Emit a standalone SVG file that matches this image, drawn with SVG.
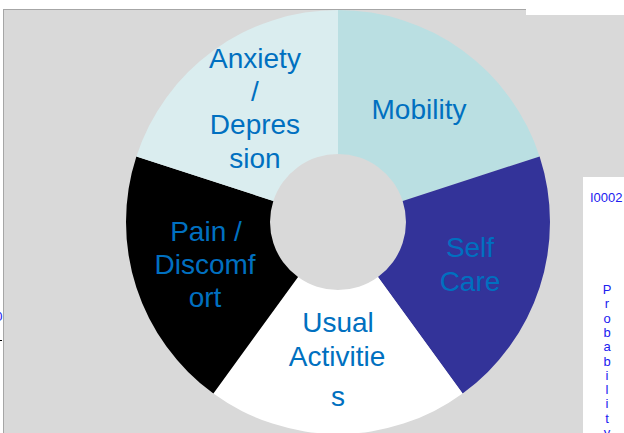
<svg xmlns="http://www.w3.org/2000/svg" width="624" height="433" viewBox="0 0 624 433">
<style>
.lbl{font-family:"Liberation Sans",Arial,sans-serif;font-size:28px;fill:#0070C0;text-anchor:middle}
.ax{font-family:"Liberation Sans",Arial,sans-serif;font-size:13px;fill:#2020F0}
.v{text-anchor:middle}
</style>
<rect x="0" y="0" width="624" height="433" fill="#FFFFFF"/>
<rect x="3" y="9" width="621" height="424" fill="#D9D9D9"/>
<line x1="3" y1="9.5" x2="526" y2="9.5" stroke="#A6A6A6" stroke-width="1"/>
<line x1="3.5" y1="9" x2="3.5" y2="433" stroke="#A6A6A6" stroke-width="1"/>
<rect x="526" y="0" width="98" height="15" fill="#FFFFFF"/>
<rect x="583" y="177" width="41" height="256" fill="#FFFFFF"/>
<text class="ax" x="2.5" y="321" text-anchor="end" font-size="14">0</text>
<line x1="0" y1="340.5" x2="2" y2="340.5" stroke="#000" stroke-width="1"/>
<g id="mobility">
<path d="M338 10A212 212 0 0 1 539.62 156.49L402.67 200.99A68 68 0 0 0 338 154Z" fill="#BADFE2"/>
<text class="lbl" x="419" y="119">Mobility</text>
</g>
<g id="self-care">
<path d="M539.62 156.49A212 212 0 0 1 462.61 393.51L377.97 277.01A68 68 0 0 0 402.67 200.99Z" fill="#333399"/>
<text class="lbl" x="470" y="257">Self</text>
<text class="lbl" x="470" y="291">Care</text>
</g>
<g id="usual-activities">
<path d="M462.61 393.51A212 212 0 0 1 213.39 393.51L298.03 277.01A68 68 0 0 0 377.97 277.01Z" fill="#FFFFFF"/>
<text class="lbl" x="338" y="332">Usual</text>
<text class="lbl" x="337" y="366">Activitie</text>
<text class="lbl" x="338" y="406">s</text>
</g>
<g id="pain-discomfort">
<path d="M213.39 393.51A212 212 0 0 1 136.38 156.49L273.33 200.99A68 68 0 0 0 298.03 277.01Z" fill="#000000"/>
<text class="lbl" x="206" y="241">Pain /</text>
<text class="lbl" x="205" y="274">Discomf</text>
<text class="lbl" x="205" y="307">ort</text>
</g>
<g id="anxiety-depression">
<path d="M136.38 156.49A212 212 0 0 1 338 10L338 154A68 68 0 0 0 273.33 200.99Z" fill="#DAEDEF"/>
<text class="lbl" x="255" y="68">Anxiety</text>
<text class="lbl" x="255" y="101">/</text>
<text class="lbl" x="255" y="134">Depres</text>
<text class="lbl" x="255" y="168">sion</text>
</g>
<g id="axis">
<text class="ax" x="590" y="202">I0002</text>
<g class="ax v">
<text x="607" y="294">P</text>
<text x="607" y="308">r</text>
<text x="607" y="323">o</text>
<text x="607" y="337">b</text>
<text x="607" y="351">a</text>
<text x="607" y="366">b</text>
<text x="607" y="380">i</text>
<text x="607" y="394">l</text>
<text x="607" y="408">i</text>
<text x="607" y="423">t</text>
<text x="607" y="437">y</text>
</g>
</g>
<g id="connectors"/>
</svg>
